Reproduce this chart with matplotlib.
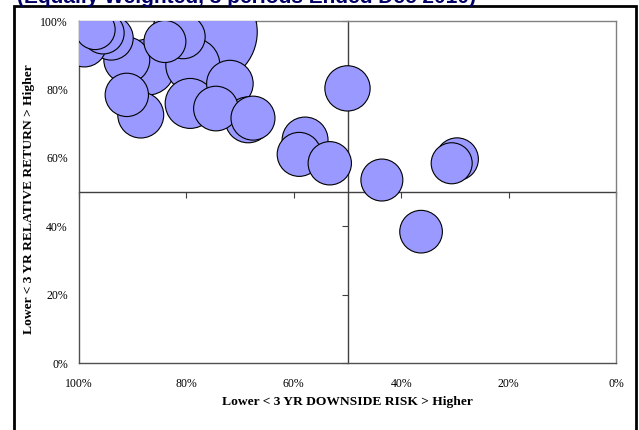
import numpy as np
import matplotlib
matplotlib.use("Agg")
import matplotlib.pyplot as plt
from matplotlib.patches import Rectangle

# ---- data ----
downside_risk = [50.0, 57.9, 59.0, 53.3, 43.6, 36.3, 30.6, 29.6, 68.5, 67.6,
                 71.9, 74.5, 79.3, 91.1, 88.5, 91.1, 84.0, 80.6, 76.5, 87.3,
                 78.8, 97.0, 95.5, 94.0, 99.0]
relative_return = [80.3, 65.2, 61.0, 58.4, 53.5, 38.4, 58.4, 59.6, 71.1, 71.6,
                   81.7, 74.4, 75.9, 78.4, 72.5, 88.6, 94.0, 95.4, 96.8, 86.5,
                   87.1, 97.5, 96.5, 95.0, 93.0]
bubble_size = [1.06, 1.09, 1.00, 0.97, 0.91, 0.94, 0.87, 0.94, 1.09, 1.00,
               1.12, 1.03, 1.29, 0.97, 1.09, 1.09, 0.91, 1.00, 5.60, 1.62,
               1.51, 0.83, 0.91, 1.00, 1.00]
tick_values = [0, 20, 40, 60, 80, 100]
tick_labels = ["0%", "20%", "40%", "60%", "80%", "100%"]
title = "(Equally Weighted, 3 periods Ended Dec 2010)"
xlabel = "Lower < 3 YR DOWNSIDE RISK > Higher"
ylabel = "Lower < 3 YR RELATIVE RETURN > Higher"

W, H = 639, 430
fig = plt.figure(figsize=(W / 100, H / 100), dpi=100)
fig.patch.set_facecolor("white")

rect = [79 / W, 1 - 363 / H, (616 - 79) / W, (363 - 21) / H]

# axes holding the crossing axis lines (behind bubbles)
axl = fig.add_axes(rect)
axl.set_xlim(100, 0)
axl.set_ylim(0, 100)
for s in ["top", "right"]:
    axl.spines[s].set_visible(False)
axl.spines["left"].set_position(("data", 50))
axl.spines["bottom"].set_position(("data", 50))
for s in ["left", "bottom"]:
    axl.spines[s].set_color("#404040")
    axl.spines[s].set_linewidth(1.0)
axl.set_xticks(tick_values)
axl.set_yticks(tick_values)
axl.tick_params(axis="both", direction="out", length=4, width=0.8,
                color="#404040", labelbottom=False, labelleft=False)
axl.patch.set_visible(False)

# main axes with bubbles and labels
ax = fig.add_axes(rect)
ax.set_xlim(100, 0)
ax.set_ylim(0, 100)
ax.patch.set_alpha(0)
for s in ax.spines.values():
    s.set_color("#808080")
    s.set_linewidth(1.0)
ax.spines["left"].set_color("#505050")
ax.spines["bottom"].set_color("#505050")

order = np.argsort(-np.array(bubble_size), kind="stable")
xs = np.array(downside_risk)[order]
ys = np.array(relative_return)[order]
ss = np.array(bubble_size)[order] * 1003
ax.scatter(xs, ys, s=ss, facecolor="#9999FF", edgecolor="black",
           linewidth=0.8, zorder=3)

ax.set_xticks(tick_values)
ax.set_xticklabels(tick_labels)
ax.set_yticks(tick_values)
ax.set_yticklabels(tick_labels)
ax.tick_params(axis="both", length=0, labelsize=8.5)
ax.tick_params(axis="x", pad=11)
ax.tick_params(axis="y", pad=8)
for lab in ax.get_xticklabels() + ax.get_yticklabels():
    lab.set_fontfamily("Liberation Serif")

fig.text(347.5 / W, 1 - 402 / H, xlabel, ha="center", va="center",
         fontsize=9.7, fontweight="bold", family="Liberation Serif")
fig.text(29 / W, 1 - 199 / H, ylabel, ha="center", va="center",
         rotation=90, fontsize=9.7, fontweight="bold", family="Liberation Serif")

# truncated title at very top
fig.text(17 / W, 1 - 3 / H, title, ha="left", va="baseline",
         fontsize=15, fontweight="bold", color="#000066",
         family="Liberation Sans")

# outer border box
fig.patches.append(Rectangle((14 / W, -0.1), (636 - 14) / W, 1 - 6 / H + 0.1,
                             transform=fig.transFigure, fill=False,
                             edgecolor="black", linewidth=2.0))

fig.savefig("out.png", dpi=100, facecolor="white")
